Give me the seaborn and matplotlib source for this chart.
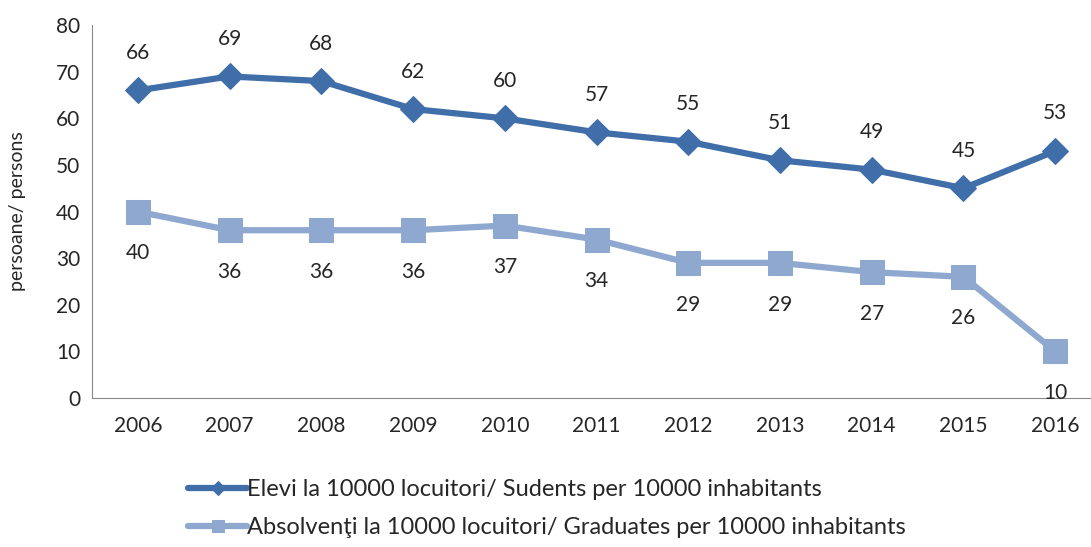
import pandas as pd
import seaborn as sns
import matplotlib.pyplot as plt

years = [2006, 2007, 2008, 2009, 2010, 2011, 2012, 2013, 2014, 2015, 2016]
students = [66, 69, 68, 62, 60, 57, 55, 51, 49, 45, 53]
graduates = [40, 36, 36, 36, 37, 34, 29, 29, 27, 26, 10]
label_students = "Elevi la 10000 locuitori/ Sudents per 10000 inhabitants"
label_graduates = "Absolvenţi la 10000 locuitori/ Graduates per 10000 inhabitants"

sns.set_style("white")
plt.rcParams["font.family"] = ["Lato", "DejaVu Sans"]

df = pd.DataFrame({"pos": range(len(years)), "students": students, "graduates": graduates})

fig = plt.figure(figsize=(10.91, 5.47), dpi=100)
ax = fig.add_axes([0.0843, 0.2724, 0.9157, 0.6816])

dark = "#3F6EA8"
light = "#8FA8D0"

sns.lineplot(data=df, x="pos", y="students", ax=ax, color=dark, lw=4.5,
             marker="D", markersize=13, markeredgecolor=dark, label=label_students)
sns.lineplot(data=df, x="pos", y="graduates", ax=ax, color=light, lw=4.5,
             marker="s", markersize=17, markeredgecolor=light, label=label_graduates)

for i, v in enumerate(students):
    ax.annotate(str(v), (i, v), xytext=(0, 27), textcoords="offset points",
                ha="center", va="center", fontsize=15)
for i, v in enumerate(graduates):
    ax.annotate(str(v), (i, v), xytext=(0, -30), textcoords="offset points",
                ha="center", va="center", fontsize=15)

ax.set_xlim(-0.5, 10.39)
ax.set_ylim(0, 80)
ax.set_yticks(range(0, 81, 10))
ax.set_xticks(range(len(years)))
ax.set_xticklabels([str(y) for y in years])
ax.tick_params(axis="both", labelsize=15, length=5, color="#888888", direction="out")
ax.tick_params(axis="x", pad=8)
ax.set_xlabel("")
ax.set_ylabel("persoane/ persons", fontsize=14)
ax.yaxis.set_label_coords(-0.066, 0.5)

for s in ["top", "right"]:
    ax.spines[s].set_visible(False)
for s in ["left", "bottom"]:
    ax.spines[s].set_color("#888888")

leg = ax.legend(loc="upper left", bbox_to_anchor=(0.075, -0.16), frameon=False,
                fontsize=17, handlelength=2.5, handletextpad=0.0, labelspacing=0.72,
                markerscale=0.55)

fig.savefig("out.png", dpi=100)
